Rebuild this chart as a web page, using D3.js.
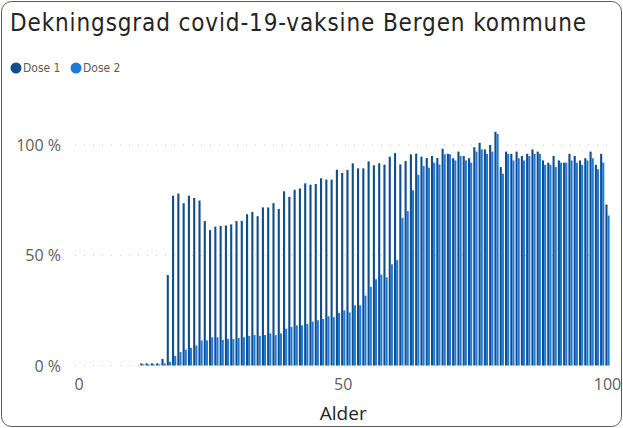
<!DOCTYPE html>
<html>
<head>
<meta charset="utf-8">
<script src="https://cdn.jsdelivr.net/npm/d3@7"></script>
<style>
  html, body { margin: 0; padding: 0; background: #fff; }
  svg { display: block; }
</style>
</head>
<body>
<div id="chart"></div>
<script>
// ages 12..100
const ages = d3.range(12, 101);

// Dose 1 coverage (%) per age
const dose1 = [
  1, 1, 1, 1, 3, 41, 77, 78, 73.6, 77,
  76, 74.8, 65.5, 61.4, 63, 63.3, 63.5, 64, 65.5, 65.6,
  68.6, 69.7, 67.7, 71.7, 71.7, 73.6, 71, 79, 76.5, 79.7,
  80.3, 82.6, 82, 82.3, 84.9, 84.3, 84.3, 88.8, 87.3, 88.7,
  91.7, 89.4, 89.4, 92.6, 90.8, 91.7, 91.1, 94.7, 96.3, 91.2,
  92.7, 95.8, 96.1, 94.7, 94.1, 95, 94.1, 98.3, 96, 94,
  97, 95, 94, 99, 101, 98, 100, 106, 90, 97,
  96, 97, 95, 96, 98, 97, 93, 92, 95, 93,
  92, 96, 95, 93, 94, 97, 91, 96, 73
];

// Dose 2 coverage (%) per age
const dose2 = [
  0.5, 0.5, 0.5, 0.5, 1, 1.7, 4.3, 6.1, 7.2, 8,
  9.1, 11.4, 11.4, 12.8, 12.8, 11.6, 12, 12, 12.5, 12.8,
  13.4, 13.8, 13.5, 13.8, 14.6, 13.8, 14.6, 16.7, 17.5, 18.2,
  18.2, 18.8, 19.9, 20.5, 21.1, 22.3, 21.9, 23.8, 25, 24.1,
  27.3, 27.3, 31.7, 35.7, 39.1, 41.2, 40, 45.9, 47.8, 66.9,
  70, 79.5, 86.5, 90.5, 89.7, 92, 91.2, 95.8, 95.8, 93,
  95, 93, 92, 97, 98, 96, 97, 105, 87, 96,
  93, 94, 93, 95, 96, 96, 91, 91, 90, 92,
  92, 93, 92, 91, 93, 94, 89, 92, 68
];

const xTicks = [0, 50, 100];
const yTicks = [0, 50, 100];
const seriesNames = ['Dose 1', 'Dose 2'];
const colors = ['#124E8C', '#1F7BDB'];

const width = 623, height = 428;

const svg = d3.select('#chart').append('svg')
  .attr('width', width)
  .attr('height', height);

// card border
svg.append('rect')
  .attr('x', 1.5).attr('y', 1.5)
  .attr('width', width - 3).attr('height', height - 3)
  .attr('rx', 10)
  .attr('fill', '#fff')
  .attr('stroke', '#5a5a5a')
  .attr('stroke-width', 1);

svg.append('text')
  .attr('x', 10).attr('y', 31)
  .attr('font-family', 'DejaVu Sans Condensed, DejaVu Sans, sans-serif')
  .attr('font-size', 24)
  .attr('fill', '#252423')
  .attr('textLength', 576)
  .attr('lengthAdjust', 'spacing')
  .text('Dekningsgrad covid-19-vaksine Bergen kommune');

// legend
const legend = svg.append('g').attr('font-family', 'DejaVu Sans Condensed, sans-serif')
  .attr('font-size', 12).attr('fill', '#605E5C');
const legendX = [16, 76];
seriesNames.forEach((name, i) => {
  legend.append('circle').attr('cx', legendX[i]).attr('cy', 68).attr('r', 5.5).attr('fill', colors[i]);
  legend.append('text').attr('x', legendX[i] + 7).attr('y', 72).text(name);
});

const x = d3.scaleLinear().domain([0, 100]).range([79, 607.5]);
const y = d3.scaleLinear().domain([0, 100]).range([365.5, 145]);

// dotted gridlines
svg.append('g')
  .selectAll('line')
  .data(yTicks)
  .join('line')
  .attr('x1', 75).attr('x2', 612)
  .attr('y1', d => y(d)).attr('y2', d => y(d))
  .attr('stroke', '#c8c8c8')
  .attr('stroke-width', 1)
  .attr('stroke-dasharray', '1,8');

// y labels
svg.append('g')
  .attr('font-family', 'Segoe UI, Open Sans, sans-serif')
  .attr('font-size', 16).attr('fill', '#605E5C').attr('text-anchor', 'end')
  .selectAll('text')
  .data(yTicks)
  .join('text')
  .attr('x', 61).attr('y', d => y(d) + 6)
  .text(d => `${d} %`);

// bars
const slot = x(1) - x(0);
const bw = slot * 0.4;
const bars = svg.append('g');
[dose1, dose2].forEach((vals, s) => {
  bars.append('g')
    .attr('fill', colors[s])
    .selectAll('rect')
    .data(ages)
    .join('rect')
    .attr('x', (a) => x(a) - bw + s * bw)
    .attr('width', bw)
    .attr('y', (a, i) => y(vals[i]))
    .attr('height', (a, i) => y(0) - y(vals[i]));
});

// x labels
svg.append('g')
  .attr('font-family', 'Segoe UI, Open Sans, sans-serif')
  .attr('font-size', 16).attr('fill', '#605E5C').attr('text-anchor', 'middle')
  .selectAll('text')
  .data(xTicks)
  .join('text')
  .attr('x', d => x(d)).attr('y', 390)
  .text(d => d);

svg.append('text')
  .attr('x', x(50)).attr('y', 420)
  .attr('text-anchor', 'middle')
  .attr('font-family', 'Segoe UI, Open Sans, sans-serif')
  .attr('font-size', 19).attr('fill', '#252423')
  .text('Alder');
</script>
</body>
</html>
